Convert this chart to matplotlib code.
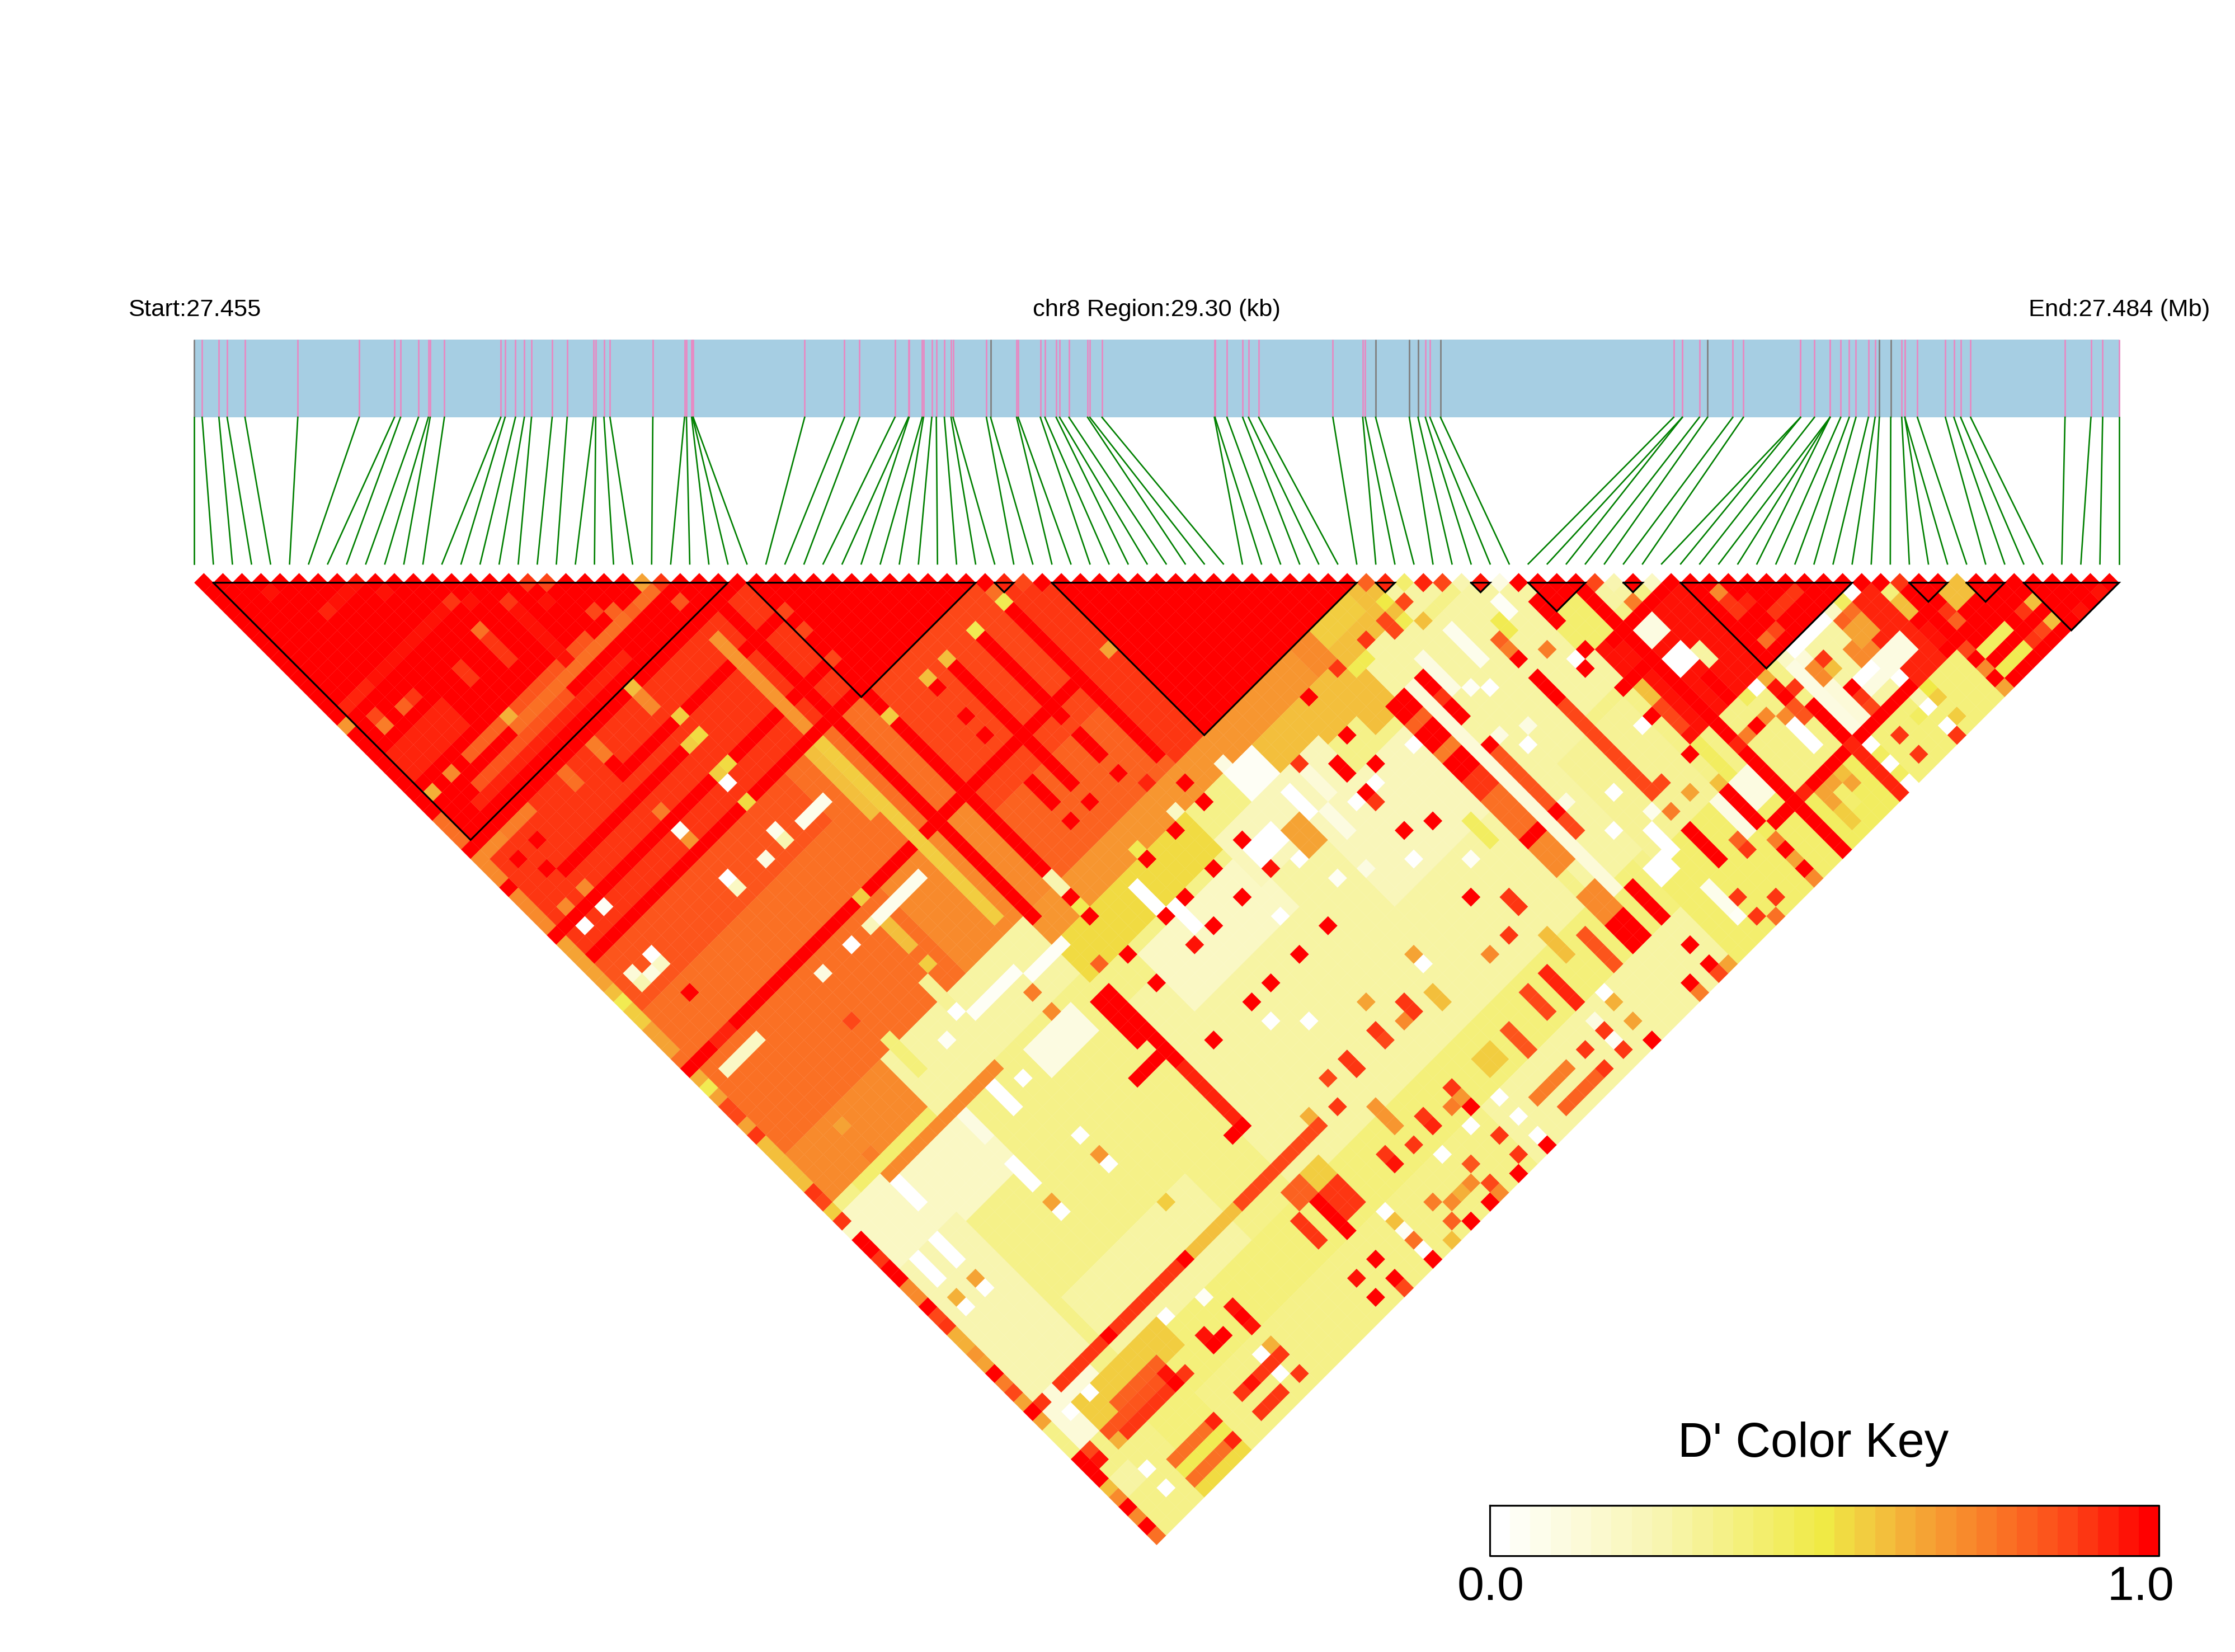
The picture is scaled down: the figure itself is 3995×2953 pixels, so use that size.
import matplotlib
matplotlib.use('Agg')
import matplotlib.pyplot as plt
import numpy as np
from matplotlib.collections import PolyCollection
from matplotlib.colors import LinearSegmentedColormap

plt.rcParams['font.family'] = ['Liberation Sans', 'DejaVu Sans']

# SNP positions along the gene bar, kb from region start
snp_kb = [0.000, 0.119, 0.374, 0.499, 0.770, 1.573, 2.505, 3.042, 3.134, 3.406,
          3.557, 3.585, 3.801, 4.658, 4.723, 4.881, 5.016, 5.125, 5.439, 5.667,
          6.068, 6.101, 6.226, 6.318, 6.969, 7.451, 7.480, 7.559, 7.573, 7.583,
          9.277, 9.882, 10.111, 10.648, 10.853, 10.863, 11.063, 11.083, 11.209, 11.278,
          11.400, 11.502, 11.532, 12.039, 12.103, 12.498, 12.522, 12.859, 12.928, 13.099,
          13.152, 13.294, 13.577, 13.611, 13.796, 15.504, 15.514, 15.695, 15.934, 16.022,
          16.178, 17.305, 17.759, 17.798, 17.955, 18.467, 18.599, 18.711, 18.780, 18.941,
          22.484, 22.616, 22.616, 22.875, 22.999, 23.383, 23.544, 24.413, 24.413, 24.624,
          24.861, 24.861, 24.861, 25.023, 25.153, 25.255, 25.444, 25.546, 25.611, 25.784,
          25.951, 25.999, 25.999, 26.189, 26.615, 26.744, 26.847, 26.998, 28.433, 28.827,
          29.005, 29.253]
grey_snps = [0, 44, 64, 65, 66, 69, 74, 88, 89]

# haplotype blocks, first and last SNP
block_first = [1, 29, 42, 45, 62, 67, 70, 75, 78, 90, 93, 96]
block_last = [28, 41, 43, 61, 63, 68, 73, 76, 87, 92, 95, 101]

# D', as (i from, i to, j from, j to, value), later rows win
ld_zones = [
    (0, 101, 0, 101, .34),
    (0, 28, 30, 41, .88), (0, 28, 42, 61, .76), (0, 20, 42, 46, .82),
    (29, 44, 42, 61, .86), (29, 44, 55, 61, .8), (20, 28, 52, 61, .72), (5, 15, 47, 52, .76),
    (45, 61, 46, 61, 1.), (42, 44, 45, 61, .88),
    (29, 41, 30, 41, 1.), (0, 28, 0, 29, 1.), (42, 44, 43, 44, .9),
    (40, 61, 62, 64, .68), (46, 61, 65, 68, .6), (54, 61, 62, 70, .6),
    (0, 10, 62, 66, .72), (11, 25, 62, 67, .3), (26, 39, 62, 68, .52), (26, 39, 62, 64, .68),
    (3, 25, 68, 90, .36), (1, 12, 68, 74, .2), (1, 6, 74, 88, .25), (1, 5, 88, 92, .14),
    (26, 55, 72, 90, .3), (57, 64, 66, 90, .3),
    (30, 40, 70, 75, .2), (40, 50, 68, 72, .22), (46, 55, 72, 80, .24),
    (62, 69, 63, 80, .3), (62, 68, 82, 91, .33), (70, 72, 71, 73, 1.), (78, 87, 79, 87, .97),
    (88, 101, 89, 101, .97), (85, 87, 89, 96, .92), (80, 84, 89, 96, .3),
    (70, 77, 78, 87, .95), (69, 71, 74, 77, .42), (73, 74, 75, 76, .3),
    (60, 71, 92, 101, .4), (72, 79, 97, 101, .45), (80, 88, 97, 101, .38),
    (6, 60, 91, 101, .38), (10, 40, 96, 101, .36), (40, 60, 96, 101, .3),
    (8, 20, 84, 90, .28), (3, 8, 90, 92, .55), (9, 11, 90, 92, .55),
    (70, 71, 92, 94, .1), (79, 80, 89, 96, .14), (83, 84, 91, 92, .72), (84, 85, 90, 91, .65),
    (82, 86, 93, 94, .1), (27, 28, 90, 92, .57), (40, 50, 96, 100, .3),
]

ld_stripes = [
    # red and orange lines that cross the triangle
    (0, 28, 29, 29, 1.), (4, 18, 35, 35, 1.), (0, 16, 38, 38, 1.), (19, 28, 38, 38, 1.),
    (0, 28, 41, 41, 1.), (12, 28, 33, 33, 1.), (26, 26, 30, 62, 1.), (29, 29, 42, 60, 1.),
    (41, 41, 44, 60, 1.), (38, 38, 44, 51, 1.), (35, 35, 45, 54, 1.), (5, 41, 52, 52, 1.),
    (33, 33, 55, 57, 1.), (35, 35, 55, 57, 1.), (38, 38, 55, 57, 1.),
    (3, 4, 52, 52, .93), (0, 2, 52, 52, 1.),
    (24, 24, 42, 60, .55), (23, 23, 42, 48, .58), (24, 24, 31, 40, .68),
    (18, 22, 54, 54, .08), (2, 5, 54, 54, .2), (23, 26, 65, 65, .05), (18, 22, 64, 64, .04),
    (19, 21, 45, 45, .08), (17, 17, 60, 62, .33), (29, 29, 61, 62, .25),
    (12, 12, 61, 64, .38), (3, 10, 67, 67, .42), (5, 16, 68, 68, .72),
    (8, 17, 24, 24, .82), (5, 8, 24, 24, .8), (9, 24, 25, 25, .78), (4, 13, 26, 26, .82),
    (3, 18, 27, 27, .93), (1, 3, 15, 15, .92), (4, 12, 15, 15, .96), (5, 8, 9, 9, .96),
    (15, 15, 18, 24, .95), (12, 12, 19, 21, .9), (9, 9, 19, 20, .9), (1, 6, 20, 22, .92),
    (3, 5, 30, 30, .75), (1, 2, 30, 30, .72), (12, 12, 30, 31, .75), (9, 9, 30, 31, .78),
    (17, 17, 30, 31, .72), (44, 46, 65, 67, .05), (33, 33, 66, 68, .03), (34, 34, 69, 71, .03),
    (41, 43, 70, 71, .03), (18, 18, 55, 57, .58),
    (19, 23, 69, 71, .1), (15, 15, 69, 71, .03), (5, 5, 69, 71, .02), (12, 12, 74, 76, .03),
    (12, 12, 69, 71, .1), (4, 4, 74, 76, .03), (2, 2, 74, 76, .03),
    # right half
    (59, 59, 70, 71, 1.), (59, 59, 72, 72, .88), (59, 59, 73, 74, 1.), (59, 59, 77, 77, .98),
    (59, 59, 78, 83, .83), (59, 59, 84, 84, 1.), (59, 59, 85, 86, .85), (59, 59, 92, 95, 1.),
    (56, 57, 70, 71, 1.), (56, 57, 72, 72, .8), (56, 57, 73, 74, 1.), (56, 57, 75, 75, .75),
    (56, 57, 76, 77, 1.), (56, 57, 78, 79, .9), (56, 57, 80, 83, .78), (56, 57, 84, 84, 1.),
    (56, 57, 85, 87, .72), (56, 57, 90, 92, .72), (56, 57, 93, 95, 1.), (58, 58, 70, 91, .14),
    (61, 62, 92, 93, .0), (65, 65, 76, 78, .98), (65, 65, 79, 88, .85), (65, 65, 92, 95, 1.),
    (69, 69, 72, 74, 1.), (69, 71, 81, 81, 1.), (69, 69, 92, 95, 1.), (72, 72, 74, 90, 1.),
    (72, 72, 91, 96, 1.), (72, 72, 97, 101, .98), (71, 77, 78, 78, 1.), (70, 72, 96, 96, 1.),
    (74, 84, 96, 96, 1.), (78, 78, 92, 95, 1.), (78, 78, 96, 101, .93), (74, 74, 85, 87, 1.),
    (75, 77, 85, 87, .95), (73, 74, 79, 80, .12), (73, 74, 82, 83, .02), (75, 75, 83, 84, .3),
    (76, 76, 92, 94, .0), (79, 79, 89, 95, .12), (79, 86, 88, 88, .0), (79, 79, 88, 88, .2),
    (84, 84, 88, 88, .2), (85, 85, 88, 88, .45), (88, 88, 91, 92, .6), (81, 81, 90, 91, .58),
    (80, 80, 90, 91, .72), (82, 83, 93, 93, .02), (90, 92, 98, 98, .45), (90, 92, 100, 100, .47),
    (91, 92, 93, 94, .58), (63, 63, 69, 72, .08), (67, 67, 70, 71, .05), (63, 65, 67, 67, .35),
    (74, 76, 97, 98, .65), (75, 75, 98, 99, .42), (63, 63, 96, 98, .08), (68, 68, 92, 95, .1),
    (56, 57, 62, 63, .56), (58, 59, 62, 63, .57), (54, 55, 62, 64, .72),
    (70, 70, 88, 91, .45), (70, 70, 82, 83, .6), (70, 70, 84, 86, .85), (44, 45, 71, 73, .65),
    (50, 50, 92, 95, .92), (48, 48, 92, 94, .86), (45, 45, 93, 95, .82),
    (46, 46, 69, 71, .02), (48, 48, 68, 71, .15), (47, 47, 72, 74, .1), (60, 60, 69, 72, .12),
    (63, 63, 90, 92, .03), (54, 54, 80, 82, .45), (52, 52, 90, 92, .58), (54, 54, 92, 95, .82),
    (43, 43, 87, 88, .6), (34, 34, 90, 92, .68), (42, 43, 93, 94, .57), (43, 46, 98, 98, .75),
    (44, 47, 100, 100, .8),
    # lower part
    (25, 26, 70, 71, 1.), (25, 26, 72, 74, 1.), (26, 26, 75, 77, 1.), (26, 26, 78, 83, .92),
    (25, 26, 84, 84, 1.), (23, 25, 76, 76, 1.), (3, 11, 88, 88, .88), (12, 15, 88, 88, .9),
    (22, 30, 88, 88, .86), (17, 21, 88, 88, .6), (5, 9, 92, 93, .8), (3, 8, 93, 93, .82),
    (4, 10, 94, 94, .9), (26, 26, 92, 95, 1.), (24, 24, 92, 94, .9), (27, 28, 92, 94, .88),
    (25, 26, 90, 91, .8), (12, 15, 98, 98, .9), (12, 14, 100, 100, .9), (5, 8, 98, 98, .78),
    (5, 8, 100, 100, .78), (5, 9, 101, 101, .52), (5, 9, 99, 99, .48), (16, 16, 93, 95, .94),
    (16, 16, 97, 97, .62), (0, 2, 96, 97, .3),
    # SNP 0 edge
    (0, 0, 1, 26, 1.), (0, 0, 26, 28, .78), (0, 0, 30, 32, .72), (0, 0, 34, 37, .72),
    (0, 0, 39, 43, .66), (0, 0, 48, 50, .65), (0, 0, 56, 57, .85), (0, 0, 60, 64, .6),
    (0, 0, 70, 71, 1.), (0, 0, 73, 74, 1.), (0, 0, 75, 76, .72), (0, 0, 80, 81, .62),
    (0, 0, 93, 95, 1.),
]

# single cells (i, j, value)
ld_spots = [
    (3, 5, .96), (5, 9, .93), (9, 11, .96), (12, 15, .9), (13, 16, .96), (15, 18, .9), (17, 20, .96),
    (12, 18, .78), (9, 24, .62), (3, 24, .72), (1, 24, .63), (2, 17, .85), (2, 18, .75), (4, 18, .8),
    (5, 18, .9), (0, 16, .68), (17, 18, .88), (18, 19, .85), (23, 24, .65), (24, 25, .88), (20, 24, .8),
    (21, 25, .8), (19, 23, .85), (24, 27, .82), (17, 29, .58), (18, 33, .57), (18, 35, .53), (17, 35, .57),
    (18, 38, .52), (17, 38, .57), (17, 39, 0), (17, 41, .52), (12, 39, .05), (12, 40, .68), (12, 44, 0),
    (12, 45, .2), (4, 39, .06), (2, 39, 0), (4, 44, 0), (4, 45, .2), (2, 44, .15), (3, 45, .1), (2, 45, .25),
    (0, 45, .47), (0, 44, .58), (4, 48, 1.), (12, 32, 1.), (12, 37, .75), (4, 32, 1.), (2, 32, 1.),
    (3, 34, 1.), (0, 33, 1.), (4, 37, .72), (2, 37, .7), (0, 29, 1.), (29, 38, .85), (29, 35, .85), (29, 33, .85),
    (20, 45, .08), (17, 44, .08), (17, 45, .25), (15, 45, .1), (18, 52, .55), (17, 54, .22), (15, 54, 0),
    (12, 54, .1), (18, 59, .55), (17, 63, 0), (15, 64, .05), (41, 44, .47), (41, 43, .78), (38, 44, .47),
    (35, 44, .6), (33, 44, .6), (29, 44, .55), (44, 52, .65), (33, 45, 1.), (33, 48, 1.), (33, 50, 1.),
    (38, 53, 1.), (35, 59, 1.), (33, 59, 1.), (38, 59, 1.), (39, 61, .92), (41, 42, 1.), (42, 43, .92),
    (43, 44, .85), (44, 45, 1.),
    (29, 65, 1.), (29, 63, 1.), (29, 64, .48), (35, 64, .48), (38, 65, 1.), (41, 65, 1.), (35, 65, 1.),
    (41, 63, 1.), (39, 64, .2), (44, 64, .12), (38, 69, 1.), (41, 69, 1.), (41, 72, .95), (29, 69, 1.),
    (29, 72, 1.), (33, 69, 1.), (35, 69, 1.), (33, 72, .95), (35, 72, 1.), (38, 72, 1.), (29, 78, 1.),
    (33, 78, 1.), (35, 78, 1.), (38, 78, 1.), (41, 78, 1.), (27, 68, .8), (52, 65, 1.), (52, 69, 1.),
    (50, 70, 1.), (50, 71, 1.), (52, 72, 1.), (50, 73, 1.), (50, 74, .9), (52, 78, 1.), (50, 77, 1.),
    (48, 68, .88), (55, 65, .88), (58, 65, .88), (56, 66, .47), (57, 66, .47), (61, 64, .5), (62, 65, .85),
    (61, 66, .48), (60, 65, .85), (60, 66, .85), (62, 67, .6), (65, 72, .8), (65, 73, .75), (66, 71, .48),
    (66, 72, .48), (67, 75, .75), (65, 74, 1.), (69, 77, 1.), (68, 78, 1.), (68, 77, .03), (74, 77, .75),
    (16, 88, .97), (8, 88, 1.), (9, 93, .96), (9, 94, 1.), (13, 93, .95), (13, 94, 1.), (14, 94, 1.),
    (16, 94, 1.), (9, 98, .92), (9, 100, .92), (13, 98, .94), (16, 98, .9), (16, 100, .9),
    (26, 98, 1.), (26, 100, 1.), (24, 98, .95), (24, 100, .97), (26, 101, .85), (29, 101, 1.), (33, 101, 1.),
    (35, 101, 1.), (38, 101, 1.), (41, 101, 1.), (39, 93, .9), (39, 95, 1.), (39, 94, .68), (34, 94, .9),
    (32, 94, .95), (32, 93, .88), (36, 94, .92), (36, 93, .88), (38, 94, .75), (35, 86, .88), (35, 87, .9),
    (33, 86, .85), (32, 88, .88), (30, 87, .62), (38, 86, .88), (38, 87, .85), (40, 87, .72), (41, 86, .88),
    (41, 87, .88), (39, 84, .65), (48, 88, .72), (44, 84, .65), (50, 88, .9), (52, 86, .9), (52, 87, .88),
    (50, 84, 1.), (66, 88, .85), (69, 88, 1.), (69, 84, 1.), (68, 84, 0), (72, 88, 1.),
    (74, 90, 1.), (72, 90, .92), (73, 90, .75), (76, 88, 0), (75, 88, .45), (77, 88, .62), (77, 89, .95),
    (77, 90, 1.), (78, 90, .9), (77, 91, .82), (77, 92, .82), (75, 90, .72), (76, 91, .72), (79, 81, .72),
    (79, 82, .9), (79, 83, .9), (80, 83, .93), (81, 85, .88), (82, 85, .88), (83, 85, .88), (79, 86, .78),
    (80, 86, .85), (85, 91, .65), (81, 93, 1.), (81, 94, .9), (81, 95, .85), (84, 95, 0), (84, 96, .98),
    (88, 94, .96), (88, 95, .96), (90, 94, .88), (90, 95, .8), (88, 90, .38), (88, 89, 1.), (89, 90, .88),
    (85, 89, .78), (84, 89, .8), (81, 90, .9), (89, 99, .72), (89, 98, 1.), (89, 97, .85), (89, 101, .65),
    (95, 98, .6), (94, 98, .88), (95, 100, .6), (94, 100, .85), (93, 100, .9), (99, 101, .95), (97, 101, .95),
    (69, 91, .6), (67, 90, .65), (65, 90, .75), (69, 96, .45), (69, 97, .75), (69, 98, 1.), (69, 99, .65),
    (69, 100, 1.), (69, 101, .7), (67, 96, .88), (67, 95, .8), (66, 100, .88), (64, 98, .88), (64, 100, .88),
    (65, 101, .78), (63, 99, .05), (59, 98, 1.), (59, 100, 1.), (57, 100, 1.), (57, 101, .75), (59, 101, .85),
    (60, 101, .65), (74, 99, .55), (74, 100, .55), (76, 97, .6), (79, 97, 0), (79, 99, 0), (79, 101, 0),
    (81, 98, .9), (81, 100, .9), (84, 98, 0), (84, 100, 0), (85, 97, .5), (85, 98, .55), (85, 100, .55),
    (83, 98, .45), (84, 97, .25), (84, 101, .9), (73, 96, .92),
    (0, 47, .55), (0, 46, .55), (0, 52, 1.), (0, 53, .63), (0, 54, .47), (0, 55, .65), (0, 58, .65), (0, 59, .88),
    (0, 65, .9), (0, 66, .85), (0, 67, .55), (0, 68, .9), (0, 69, .2), (0, 72, .9), (0, 77, 1.), (0, 78, .85),
    (0, 79, .9), (0, 82, .68), (0, 83, .65), (0, 84, 1.), (0, 85, .75), (0, 86, .85), (0, 87, .65), (0, 88, 1.),
    (0, 89, .65), (1, 88, .9), (1, 93, .85), (1, 94, .95), (0, 98, 1.), (0, 100, 1.), (0, 101, .78), (0, 99, .72),
    (0, 97, .72), (0, 96, .58), (2, 79, 0), (4, 79, 0), (2, 90, 0), (4, 90, 0), (3, 97, 0), (3, 99, 0),
    (12, 90, 0), (15, 91, .05), (15, 97, 0), (15, 99, 0), (5, 63, .65), (5, 66, .75), (11, 58, .85), (3, 94, .62),
    (73, 74, .87), (61, 62, .8), (62, 63, .93), (63, 64, .4), (64, 65, .92), (65, 66, .85), (66, 67, .25),
    (67, 68, .95), (68, 69, .12), (69, 70, 1.), (74, 75, .25), (75, 76, 1.), (76, 77, .2), (77, 78, 1.),
    (87, 88, .97), (92, 93, .58),
    # white and pale cells in the yellow part
    (61, 73, .05), (62, 74, .03), (61, 79, 0), (60, 77, .1), (62, 78, .12), (63, 86, .03), (60, 84, .1),
    (61, 88, 0), (64, 89, .08), (51, 73, 0), (49, 73, 0), (55, 73, 0), (49, 79, 0), (43, 73, .03),
    (44, 76, .05), (46, 77, .1), (52, 82, .05), (39, 75, 0), (44, 85, .03), (52, 96, 0), (35, 96, .03),
    (35, 82, 0), (33, 80, .02), (41, 96, 0), (38, 96, 0), (41, 98, 0), (41, 100, 0), (29, 96, .02),
    (29, 98, .05), (29, 100, 0), (50, 97, .1), (50, 99, .05), (17, 70, 0), (17, 76, 0), (17, 79, 0), (12, 79, 0),
    # orange cells in the yellow part
    (48, 88, .72), (33, 99, .72), (32, 98, .75), (35, 99, .72), (34, 99, .62), (36, 100, .85), (36, 98, .82),
    (39, 98, .88), (39, 100, .88), (36, 101, .72), (31, 101, .58), (32, 100, .8), (29, 99, .78), (29, 97, .6),
    (50, 98, .9), (50, 100, .9), (48, 98, .88), (48, 100, .88), (52, 99, .65), (52, 97, .62), (52, 101, 1.),
    (18, 84, .55), (12, 78, .65), (17, 78, .68), (4, 78, .65), (2, 78, .62), (22, 68, .7), (22, 66, .75),
]

# colour key, 33 steps from white over yellow to red
key_colors = [(0.0, '#FFFFFF'), (0.25, '#F8F5B0'), (0.5, '#F0EA45'), (0.56, '#F2CE40'), (0.65, '#F5A535'),
              (0.75, '#F97D28'), (0.88, '#FD4517'), (1.0, '#FF0000')]
n_key = 33
ld_cmap = LinearSegmentedColormap.from_list('ld', key_colors, N=n_key)

n_snp = len(snp_kb)
dprime = np.zeros((n_snp, n_snp))
for i0, i1, j0, j1, v in ld_zones + ld_stripes:
    dprime[i0:i1 + 1, j0:j1 + 1] = v
for i, j, v in ld_spots:
    dprime[i, j] = v

# layout, figure pixels
left = 347.3
right = 3787.6
step = (right - left) / (n_snp - 1)
row_top = 1041.6
bar_top, bar_bottom = 607, 746
link_bottom = 1008

fig = plt.figure(figsize=(39.95, 29.53), dpi=100)
ax = fig.add_axes([0, 0, 1, 1])
ax.set_xlim(0, 3995)
ax.set_ylim(2953, 0)
ax.axis('off')

snp_top_x = left + np.array(snp_kb) / snp_kb[-1] * (right - left)
snp_bottom_x = left + step * np.arange(n_snp)

ax.fill_between([left, right], bar_top, bar_bottom, color='#A6CEE3', lw=0, zorder=1)
colors = ['#808080' if k in grey_snps else '#E78AC3' for k in range(n_snp)]
ax.vlines(snp_top_x, bar_top, bar_bottom, colors=colors, lw=2.0, zorder=2)
for k in range(n_snp):
    ax.plot([snp_top_x[k], snp_bottom_x[k]], [bar_bottom, link_bottom], color='#008000', lw=1.9, zorder=2)

verts = []
cell_vals = []
half = step / 2
for i in range(n_snp):
    for j in range(i + 1, n_snp):
        cx = (snp_bottom_x[i] + snp_bottom_x[j]) / 2
        cy = row_top + (j - i - 1) * half
        verts.append([(cx - half, cy), (cx, cy - half), (cx + half, cy), (cx, cy + half)])
        cell_vals.append(dprime[i, j])
cells = PolyCollection(verts, array=np.array(cell_vals), cmap=ld_cmap, norm=plt.Normalize(0, 1),
                       edgecolors='face', linewidths=0.2, zorder=3)
ax.add_collection(cells)

for a, b in zip(block_first, block_last):
    xa, xb = snp_bottom_x[a], snp_bottom_x[b]
    ax.plot([xa, xb, (xa + xb) / 2, xa], [row_top, row_top, row_top + (b - a) * half, row_top],
            color='black', lw=2.3, zorder=4, solid_joinstyle='miter')

ax.text(229, 554, 'Start:27.455', fontsize=31.3, ha='left', va='center')
ax.text(2068, 554, 'chr8 Region:29.30 (kb)', fontsize=31.3, ha='center', va='center')
ax.text(3626, 554, 'End:27.484 (Mb)', fontsize=31.3, ha='left', va='center')

# colour key
key_left, key_right, key_top, key_bottom = 2663, 3859, 2691, 2781
key_edges = np.linspace(key_left, key_right, n_key + 1)
key_vals = (np.arange(n_key) + 0.5)[None, :] / n_key
ax.pcolormesh(key_edges, [key_top, key_bottom], key_vals, cmap=ld_cmap, vmin=0, vmax=1, zorder=3)
ax.plot([key_left, key_right, key_right, key_left, key_left], [key_top, key_top, key_bottom, key_bottom, key_top],
        color='black', lw=2.3, zorder=4)
ax.text(3241, 2582, "D' Color Key", fontsize=62.5, ha='center', va='center')
ax.text(2665, 2838, '0.0', fontsize=62, ha='center', va='center')
ax.text(3826, 2838, '1.0', fontsize=62, ha='center', va='center')

fig.savefig('out.png', dpi=100)
